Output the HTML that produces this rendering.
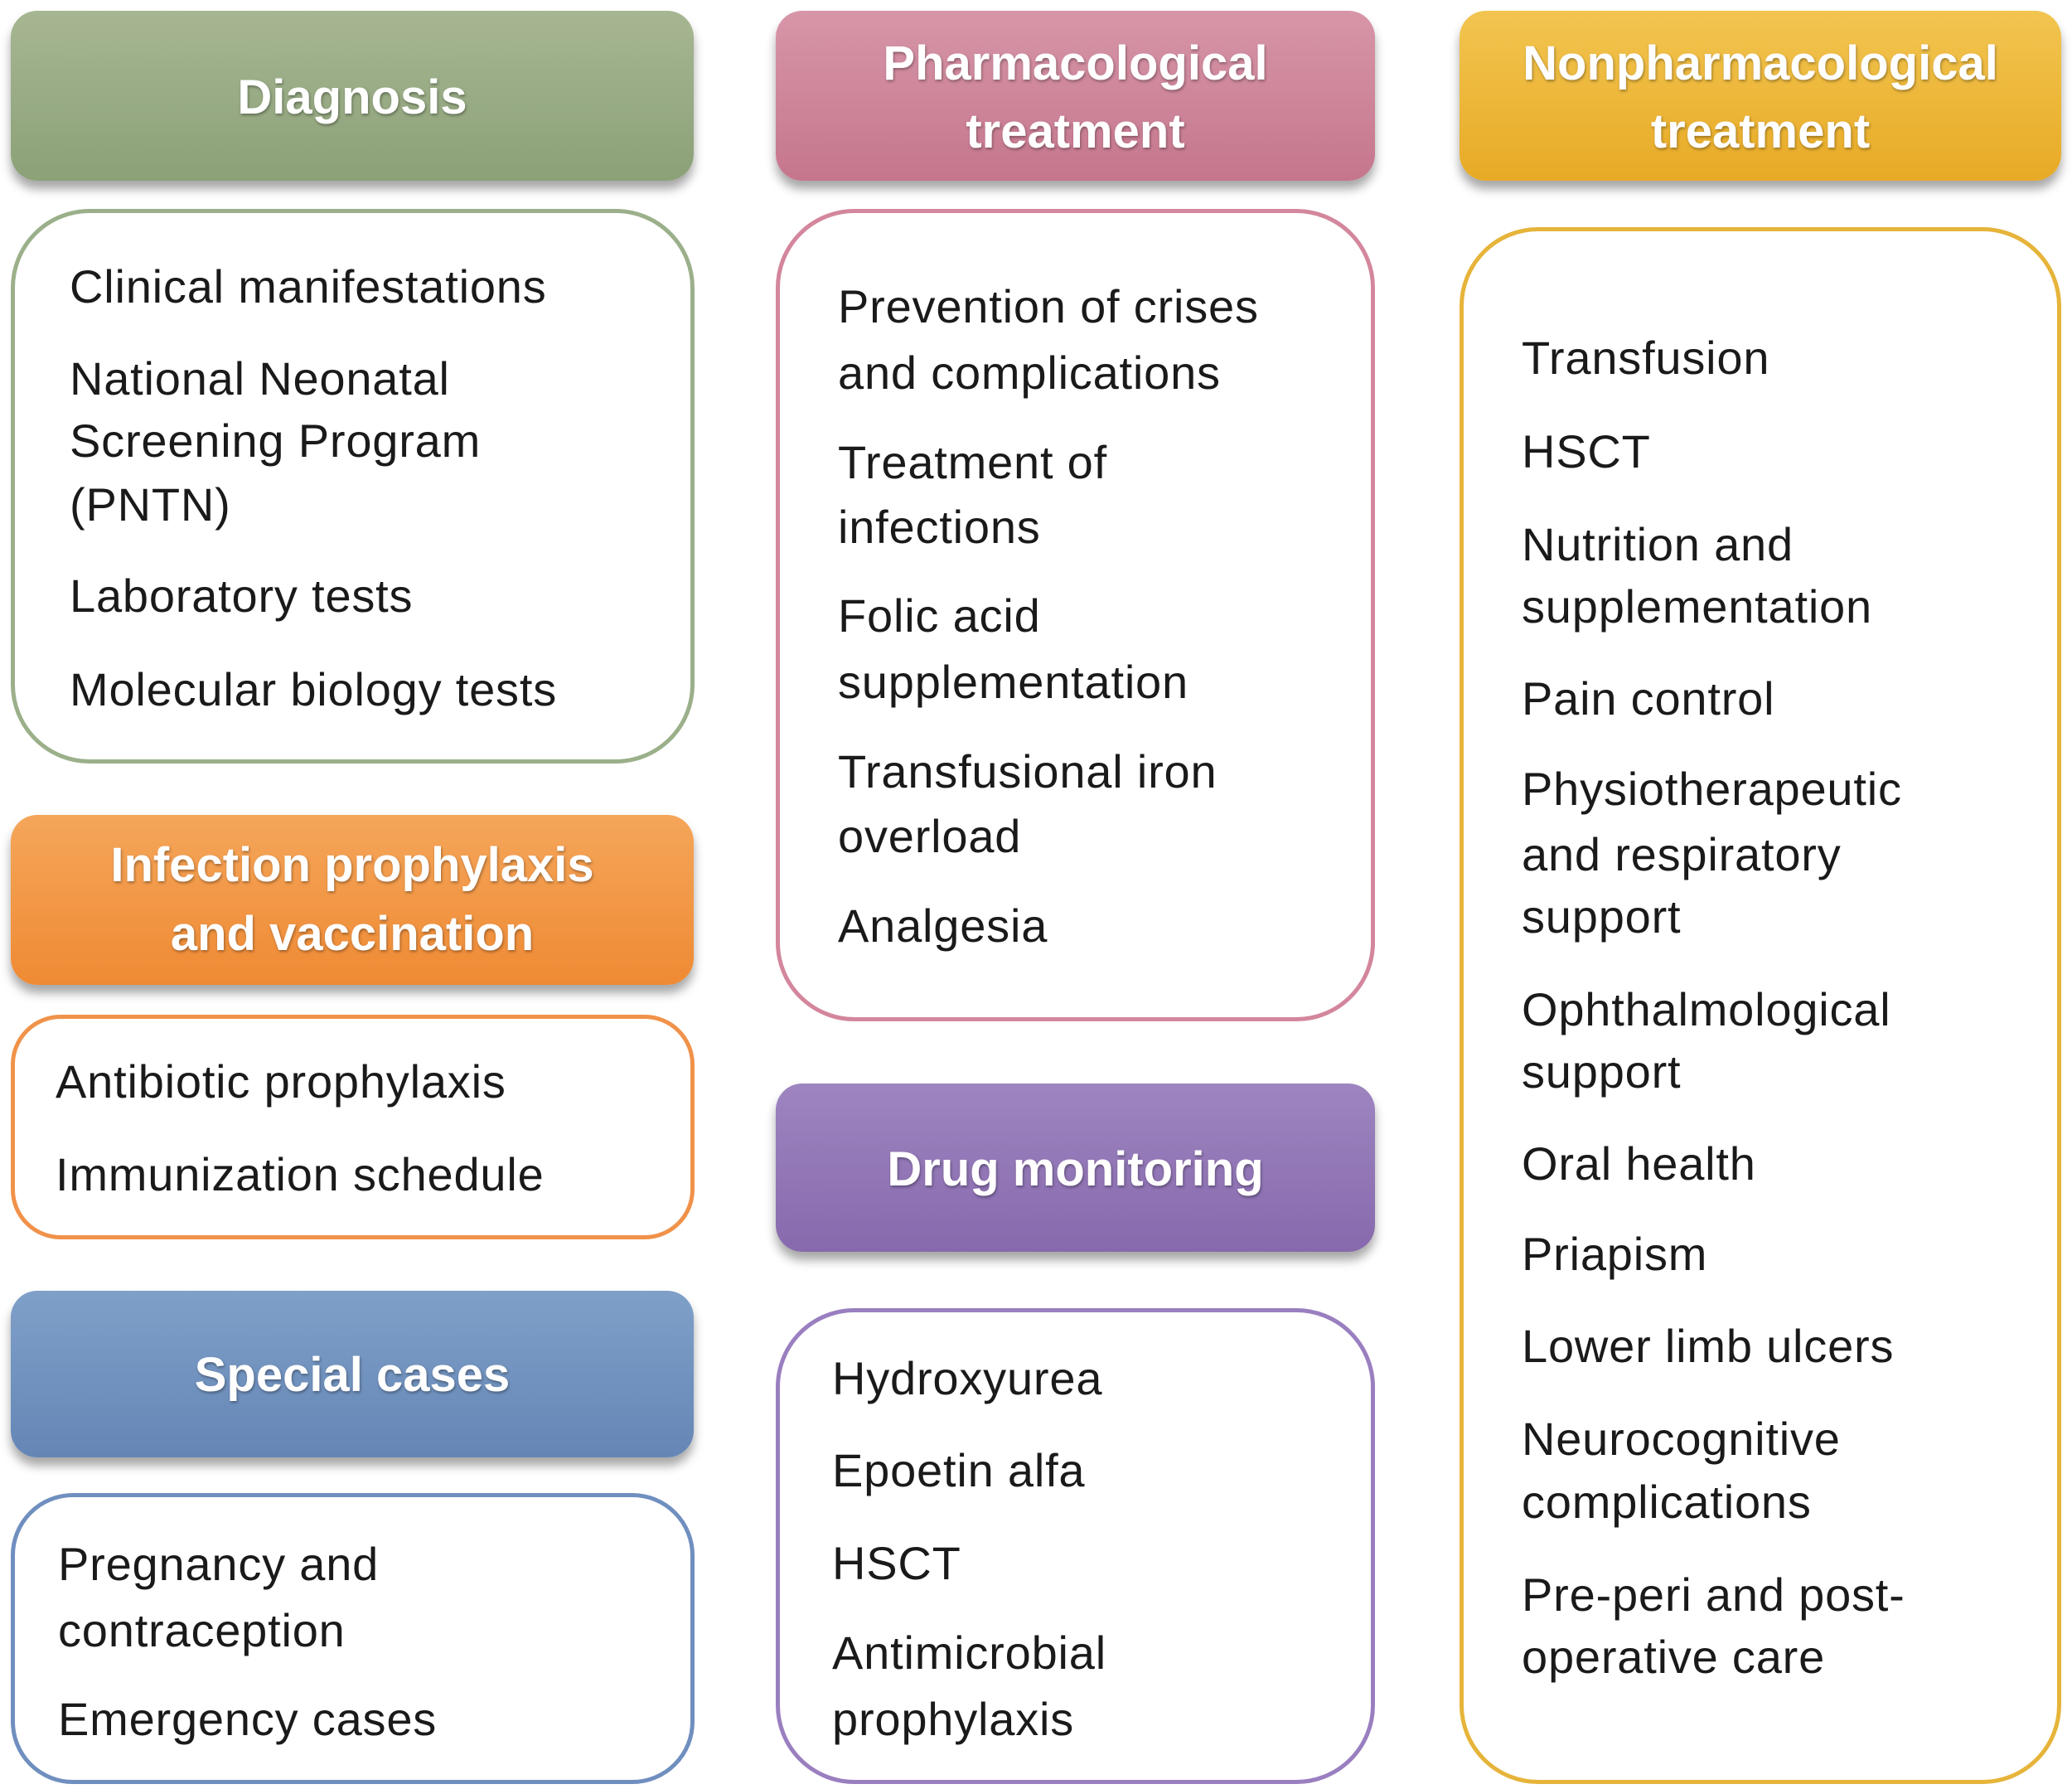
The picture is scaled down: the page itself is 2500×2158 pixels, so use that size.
<!DOCTYPE html>
<html><head><meta charset="utf-8"><style>
html,body{margin:0;padding:0;background:#fff;}
body{width:2500px;height:2158px;position:relative;overflow:hidden;font-family:"Liberation Sans",sans-serif;}
.h{position:absolute;border-radius:32px;box-shadow:0 10px 12px rgba(0,0,0,0.35);}
.b{position:absolute;background:#fff;border-radius:95px;box-sizing:border-box;border-width:5px;border-style:solid;}
.ht{position:absolute;color:#fff;font-weight:bold;font-size:58px;line-height:60px;text-align:center;text-shadow:1px 2px 3px rgba(0,0,0,0.35);white-space:nowrap;}
.t{position:absolute;color:#1a1a1a;font-size:56px;letter-spacing:0.8px;line-height:60px;white-space:nowrap;}
</style></head><body>

<div class="h" style="left:13px;top:13px;width:824px;height:205px;background:linear-gradient(#a6b692,#8ca178);"></div>
<div class="ht" style="left:13px;width:824px;top:88px;">Diagnosis</div>
<div class="b" style="left:13px;top:252px;width:825px;height:669px;border-color:#9bb08a;"></div>
<div class="t" style="left:84px;top:316px;">Clinical manifestations</div>
<div class="t" style="left:84px;top:427px;">National Neonatal</div>
<div class="t" style="left:84px;top:502px;">Screening Program</div>
<div class="t" style="left:84px;top:579px;">(PNTN)</div>
<div class="t" style="left:84px;top:689px;">Laboratory tests</div>
<div class="t" style="left:84px;top:802px;">Molecular biology tests</div>

<div class="h" style="left:13px;top:983px;width:824px;height:205px;background:linear-gradient(#f5a65a,#ef8a34);"></div>
<div class="ht" style="left:13px;width:824px;top:1014px;">Infection prophylaxis</div>
<div class="ht" style="left:13px;width:824px;top:1097px;">and vaccination</div>
<div class="b" style="left:13px;top:1224px;width:825px;height:271px;border-color:#f0924a;border-radius:60px;"></div>
<div class="t" style="left:67px;top:1275px;">Antibiotic prophylaxis</div>
<div class="t" style="left:67px;top:1387px;">Immunization schedule</div>

<div class="h" style="left:13px;top:1557px;width:824px;height:201px;background:linear-gradient(#7fa0c8,#6586b6);"></div>
<div class="ht" style="left:13px;width:824px;top:1629px;">Special cases</div>
<div class="b" style="left:13px;top:1801px;width:825px;height:351px;border-color:#6f8fbf;border-radius:75px;"></div>
<div class="t" style="left:70px;top:1857px;">Pregnancy and</div>
<div class="t" style="left:70px;top:1937px;">contraception</div>
<div class="t" style="left:70px;top:2044px;">Emergency cases</div>

<div class="h" style="left:936px;top:13px;width:723px;height:205px;background:linear-gradient(#d796a8,#c5768d);"></div>
<div class="ht" style="left:936px;width:723px;top:47px;">Pharmacological</div>
<div class="ht" style="left:936px;width:723px;top:129px;">treatment</div>
<div class="b" style="left:936px;top:252px;width:723px;height:980px;border-color:#d3869c;"></div>
<div class="t" style="left:1011px;top:340px;">Prevention of crises</div>
<div class="t" style="left:1011px;top:420px;">and complications</div>
<div class="t" style="left:1011px;top:528px;">Treatment of</div>
<div class="t" style="left:1011px;top:606px;">infections</div>
<div class="t" style="left:1011px;top:713px;">Folic acid</div>
<div class="t" style="left:1011px;top:793px;">supplementation</div>
<div class="t" style="left:1011px;top:901px;">Transfusional iron</div>
<div class="t" style="left:1011px;top:979px;">overload</div>
<div class="t" style="left:1011px;top:1087px;">Analgesia</div>

<div class="h" style="left:936px;top:1307px;width:723px;height:203px;background:linear-gradient(#9e85c0,#8769ad);"></div>
<div class="ht" style="left:936px;width:723px;top:1381px;">Drug monitoring</div>
<div class="b" style="left:936px;top:1578px;width:723px;height:574px;border-color:#9a7fc0;"></div>
<div class="t" style="left:1004px;top:1633px;">Hydroxyurea</div>
<div class="t" style="left:1004px;top:1744px;">Epoetin alfa</div>
<div class="t" style="left:1004px;top:1856px;">HSCT</div>
<div class="t" style="left:1004px;top:1964px;">Antimicrobial</div>
<div class="t" style="left:1004px;top:2044px;">prophylaxis</div>

<div class="h" style="left:1761px;top:13px;width:726px;height:205px;background:linear-gradient(#f2c550,#e8aa26);"></div>
<div class="ht" style="left:1761px;width:726px;top:47px;">Nonpharmacological</div>
<div class="ht" style="left:1761px;width:726px;top:129px;">treatment</div>
<div class="b" style="left:1761px;top:274px;width:726px;height:1878px;border-color:#e6b43a;"></div>
<div class="t" style="left:1836px;top:402px;">Transfusion</div>
<div class="t" style="left:1836px;top:515px;">HSCT</div>
<div class="t" style="left:1836px;top:627px;">Nutrition and</div>
<div class="t" style="left:1836px;top:702px;">supplementation</div>
<div class="t" style="left:1836px;top:813px;">Pain control</div>
<div class="t" style="left:1836px;top:922px;">Physiotherapeutic</div>
<div class="t" style="left:1836px;top:1001px;">and respiratory</div>
<div class="t" style="left:1836px;top:1076px;">support</div>
<div class="t" style="left:1836px;top:1188px;">Ophthalmological</div>
<div class="t" style="left:1836px;top:1263px;">support</div>
<div class="t" style="left:1836px;top:1374px;">Oral health</div>
<div class="t" style="left:1836px;top:1483px;">Priapism</div>
<div class="t" style="left:1836px;top:1594px;">Lower limb ulcers</div>
<div class="t" style="left:1836px;top:1706px;">Neurocognitive</div>
<div class="t" style="left:1836px;top:1782px;">complications</div>
<div class="t" style="left:1836px;top:1894px;">Pre-peri and post-</div>
<div class="t" style="left:1836px;top:1969px;">operative care</div>

</body></html>
